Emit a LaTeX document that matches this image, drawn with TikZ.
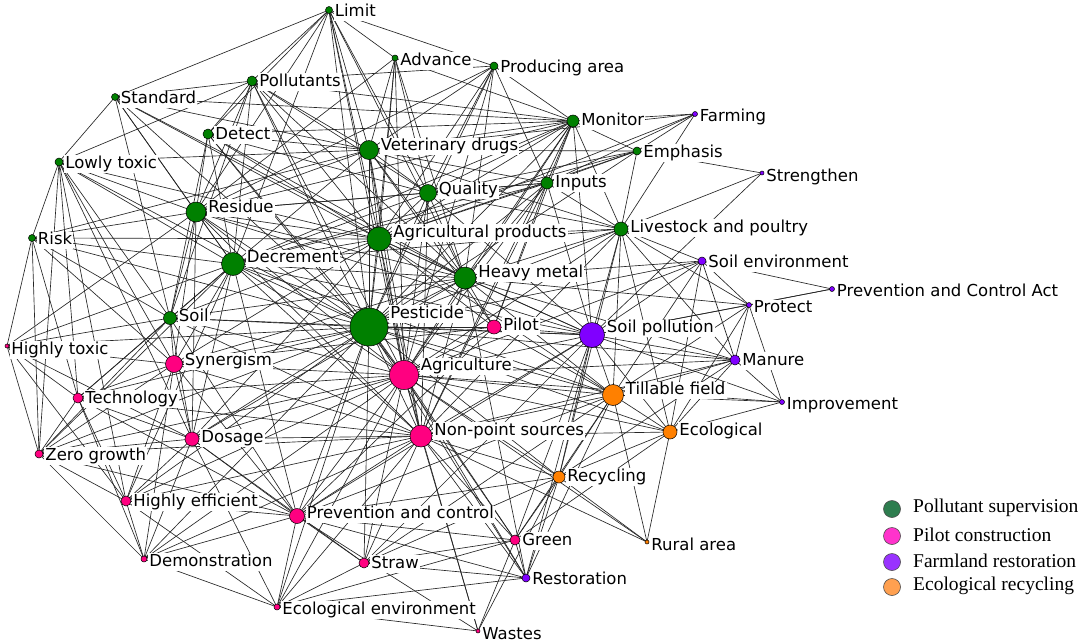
\documentclass[tikz,border=0pt]{standalone}
\usepackage{fontspec}
\setmainfont{DejaVu Sans}
\newfontfamily\legfont{Liberation Serif}
\pgfdeclarelayer{bg}
\pgfsetlayers{bg,main}
\definecolor{cg}{HTML}{008000}
\definecolor{cp}{HTML}{FF0080}
\definecolor{cv}{HTML}{8000FF}
\definecolor{co}{HTML}{FF8000}
\definecolor{lg}{HTML}{2E7D4F}
\definecolor{lp}{HTML}{FF33CC}
\definecolor{lv}{HTML}{9933FF}
\definecolor{lo}{HTML}{FFA050}
\tikzset{
  vtx/.style={circle,draw=black,line width=0.5pt,inner sep=0pt},
  lbl/.style={fill=white,inner xsep=1.2pt,inner ysep=1pt,text height=12pt,text depth=3.5pt,
    font=\fontsize{16.5}{18}\selectfont},
  edge/.style={line width=0.65pt,black!85},
  legdot/.style={circle,draw=black!70,line width=0.6pt,minimum size=17pt,inner sep=0pt},
  legtxt/.style={anchor=west,inner sep=0pt,font=\legfont\fontsize{19.5}{21}\selectfont}
}
\newcommand\nd[6]{%
  \node[vtx,fill=#5,minimum size={2*#4pt}] (#1) at (#2,#3) {};
  \node[lbl,anchor=west,xshift=0.8pt,yshift={(#4-6)*1pt}] (#1-l) at (#1.east) {#6};}
\begin{document}
\begin{tikzpicture}[x=1pt,y=-1pt]
\useasboundingbox (0,0) rectangle (1084,643);
% Pollutant supervision
\nd{lim}{329}{10}{3.5}{cg}{Limit}
\nd{adv}{395}{58}{3}{cg}{Advance}
\nd{prod}{494}{66}{4}{cg}{Producing area}
\nd{std}{115}{97}{3.5}{cg}{Standard}
\nd{pol}{252}{81}{5}{cg}{Pollutants}
\nd{det}{208}{134}{5}{cg}{Detect}
\nd{mon}{573}{121}{6}{cg}{Monitor}
\nd{emp}{637}{151}{4}{cg}{Emphasis}
\nd{vet}{369}{150}{9.5}{cg}{Veterinary drugs}
\nd{low}{59}{162}{4}{cg}{Lowly toxic}
\nd{qua}{428}{193}{8.5}{cg}{Quality}
\nd{inp}{547}{183}{6}{cg}{Inputs}
\nd{res}{196}{212}{10}{cg}{Residue}
\nd{agp}{379}{239}{12}{cg}{Agricultural products}
\nd{liv}{621}{229}{7}{cg}{Livestock and poultry}
\nd{risk}{32}{238}{3.5}{cg}{Risk}
\nd{dec}{233}{264}{11.5}{cg}{Decrement}
\nd{hm}{465}{278}{11}{cg}{Heavy metal}
\nd{soil}{170}{318}{6.5}{cg}{Soil}
\nd{pes}{369}{327}{19}{cg}{Pesticide}
% Pilot construction
\nd{pil}{494}{327}{7}{cp}{Pilot}
\nd{syn}{174}{364}{8.5}{cp}{Synergism}
\nd{agr}{404}{375}{14.5}{cp}{Agriculture}
\nd{htox}{7}{346}{2}{cp}{Highly toxic}
\nd{tech}{78}{398}{5}{cp}{Technology}
\nd{dos}{192}{439}{7}{cp}{Dosage}
\nd{nps}{421}{436}{11}{cp}{Non-point sources}
\nd{zero}{39}{454}{4}{cp}{Zero growth}
\nd{heff}{126}{501}{5}{cp}{Highly efficient}
\nd{pac}{297}{516}{7.5}{cp}{Prevention and control}
\nd{demo}{144}{559}{3}{cp}{Demonstration}
\nd{straw}{364}{563}{5}{cp}{Straw}
\nd{green}{515}{540}{5}{cp}{Green}
\nd{eco}{277}{607}{3}{cp}{Ecological environment}
\nd{wast}{478}{631}{2}{cp}{Wastes}
% Farmland restoration
\nd{farm}{695}{114}{2.5}{cv}{Farming}
\nd{str}{762}{173}{2}{cv}{Strengthen}
\nd{senv}{702}{261}{4}{cv}{Soil environment}
\nd{pca}{832}{289}{2.5}{cv}{Prevention and Control Act}
\nd{prot}{749}{305}{2.5}{cv}{Protect}
\nd{spol}{592}{335}{12.5}{cv}{Soil pollution}
\nd{man}{735}{360}{5}{cv}{Manure}
\nd{imp}{782}{402}{2.5}{cv}{Improvement}
\nd{rest}{526}{578}{4}{cv}{Restoration}
% Ecological recycling
\nd{till}{613}{395}{10.5}{co}{Tillable field}
\nd{ecol}{670}{432}{7}{co}{Ecological}
\nd{rec}{559}{477}{6}{co}{Recycling}
\nd{rural}{647}{542}{2}{co}{Rural area}
% edges
\begin{pgfonlayer}{bg}
\fill[white] (0,0) rectangle (1084,643);
\foreach \s/\ts in {
 pes/{lim,adv,prod,std,pol,det,mon,emp,vet,low,qua,inp,res,agp,liv,risk,dec,hm,soil,pil,syn,agr,htox,tech,dos,nps,zero,heff,pac,demo,straw,green,eco,spol,man,rest,till,ecol,rec,senv},
 agr/{lim,adv,prod,pol,det,mon,vet,qua,inp,res,agp,liv,dec,hm,soil,pil,syn,tech,dos,nps,zero,heff,pac,demo,straw,green,eco,wast,spol,man,rest,till,ecol,rec,rural,senv,imp},
 nps/{agp,hm,dec,res,vet,qua,inp,liv,mon,syn,dos,pac,straw,green,rec,rest,till,ecol,rural,man,spol,soil,tech,heff,zero,eco,wast,demo},
 hm/{spol,agp,qua,vet,inp,mon,liv,senv,prot,res,dec,soil,pil,till,man,rest,syn,dos,pol,det,prod,adv,lim,std},
 agp/{vet,qua,inp,mon,res,dec,liv,prod,adv,lim,pol,det,std,low,risk,soil,spol,till,pil,syn,dos,emp,farm},
 spol/{till,ecol,senv,prot,man,pca,liv,rest,rec,pil,soil,dec,res,qua,inp,mon,imp,str,green,straw,pac},
 dec/{res,vet,qua,inp,soil,syn,dos,tech,low,risk,std,pol,det,mon,emp,pac,heff,zero,htox,lim,liv,till},
 res/{vet,qua,det,pol,lim,std,low,risk,soil,syn,dos,inp,mon,prod,adv,htox},
 vet/{qua,mon,inp,liv,prod,adv,lim,pol,det,emp,farm,low,risk,std},
 qua/{inp,mon,prod,adv,lim,liv,emp,pol,det},
 mon/{inp,emp,farm,liv,prod,adv,pol,det,std},
 inp/{emp,liv,farm,prod},
 liv/{emp,farm,senv,prot,man,till,str,ecol,rec},
 till/{ecol,rec,man,imp,prot,senv,rural,green,rest,pac,straw,pil},
 ecol/{rec,rural,imp,man,green,prot,senv},
 rec/{rural,green,rest,straw,pac,wast,man},
 pac/{syn,dos,tech,heff,demo,eco,straw,green,rest,wast,zero,soil,pil},
 syn/{dos,tech,soil,zero,heff,demo,low,htox,risk,pil},
 dos/{tech,heff,zero,demo,low,htox,straw,eco},
 tech/{zero,heff,htox,low,demo},
 heff/{zero,demo,low,htox,eco},
 zero/{htox,low,risk,demo},
 demo/{eco},
 eco/{straw,wast,rest,green},
 straw/{green,rest},
 green/{rest,wast},
 soil/{low,risk,htox,std,pol,det,tech,dos,zero},
 pil/{vet,inp,mon},
 std/{low,lim,pol},
 lim/{pol,det,adv,prod},
 pol/{det,prod,low},
 risk/{low,htox,tech},
 prot/{pca,man,imp,senv},
 senv/{pca,man},
 imp/{man},
 str/{emp},
 farm/{emp}}
 {\foreach \t in \ts {\draw[edge] (\s.center) -- (\t.center);}}
\end{pgfonlayer}
% legend
\node[legdot,fill=lg] (L1) at (892,509) {};
\node[legdot,fill=lp] (L2) at (892,536) {};
\node[legdot,fill=lv] (L3) at (892,562) {};
\node[legdot,fill=lo] (L4) at (892,587) {};
\node[legtxt] (T1) at (913,508) {Pollutant supervision};
\node[legtxt] (T2) at (913,535) {Pilot construction};
\node[legtxt] (T3) at (913,561) {Farmland restoration};
\node[legtxt] (T4) at (913,586) {Ecological recycling};
\end{tikzpicture}
\end{document}
